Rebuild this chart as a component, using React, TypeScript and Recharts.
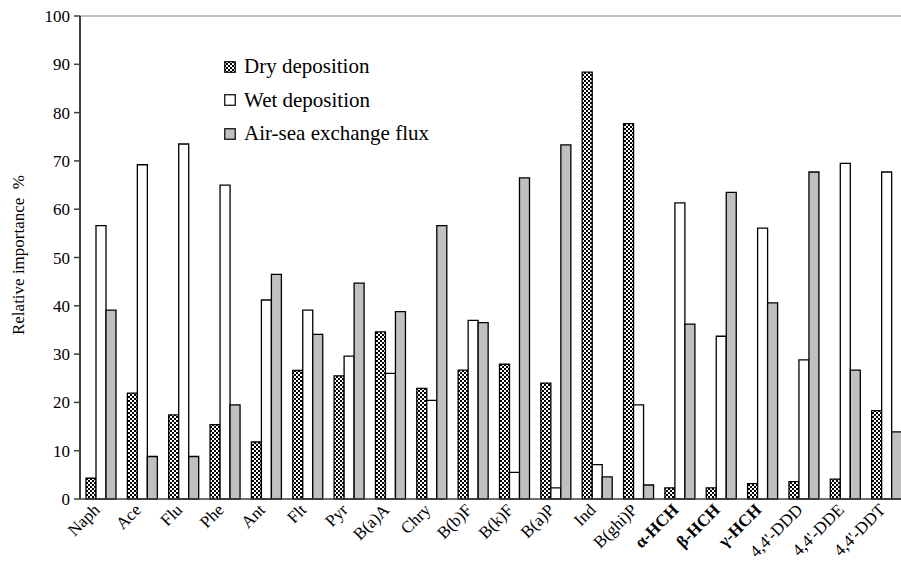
import React from "react";
import {
  Bar,
  BarChart,
  Legend,
  ReferenceLine,
  XAxis,
  YAxis,
} from "recharts";

const SERIF = '"Liberation Serif", "Times New Roman", serif';

const compounds = [
  "Naph",
  "Ace",
  "Flu",
  "Phe",
  "Ant",
  "Flt",
  "Pyr",
  "B(a)A",
  "Chry",
  "B(b)F",
  "B(k)F",
  "B(a)P",
  "Ind",
  "B(ghi)P",
  "α-HCH",
  "β-HCH",
  "γ-HCH",
  "4,4'-DDD",
  "4,4'-DDE",
  "4,4'-DDT",
];

const dryDeposition = [
  4.3, 21.9, 17.4, 15.4, 11.8, 26.6, 25.5, 34.6, 22.9, 26.7, 27.9, 24.0, 88.4,
  77.7, 2.3, 2.3, 3.2, 3.6, 4.1, 18.3,
];

const wetDeposition = [
  56.6, 69.2, 73.5, 65.0, 41.2, 39.1, 29.6, 26.0, 20.4, 37.0, 5.5, 2.3, 7.1,
  19.5, 61.3, 33.7, 56.1, 28.8, 69.5, 67.7,
];

const airSeaFlux = [
  39.1, 8.8, 8.8, 19.5, 46.5, 34.1, 44.7, 38.8, 56.6, 36.5, 66.5, 73.3, 4.6,
  2.9, 36.2, 63.5, 40.6, 67.7, 26.7, 13.9,
];

const seriesNames = ["Dry deposition", "Wet deposition", "Air-sea exchange flux"];

const yTicks = [0, 10, 20, 30, 40, 50, 60, 70, 80, 90, 100];

// boundaries between compounds, where the x-axis tick marks sit
const edgeTicks = [
  0, 1, 2, 3, 4, 5, 6, 7, 8, 9, 10, 11, 12, 13, 14, 15, 16, 17, 18, 19, 20,
];

const greek = ["α-HCH", "β-HCH", "γ-HCH"];

const data = compounds.map((name, i) => ({
  name,
  dry: dryDeposition[i],
  wet: wetDeposition[i],
  air: airSeaFlux[i],
}));

function CompoundTick({ x, y, payload }: any) {
  const bold = greek.includes(payload.value);
  return (
    <g transform={`translate(${x},${y + 12})`}>
      <text
        x={0}
        y={0}
        textAnchor="end"
        transform="rotate(-45)"
        fontFamily={SERIF}
        fontSize={17}
        fontWeight={bold ? 700 : 400}
        fill="#000"
      >
        {payload.value}
      </text>
    </g>
  );
}

function LegendBox({ payload }: any) {
  // keep the series order rather than Recharts' alphabetical sort
  const items = [...(payload || [])].sort(
    (a: any, b: any) => seriesNames.indexOf(a.value) - seriesNames.indexOf(b.value)
  );
  return (
    <div style={{ fontFamily: SERIF, fontSize: 21, color: "#000" }}>
      {items.map((entry: any) => (
        <div
          key={entry.value}
          style={{
            display: "flex",
            alignItems: "center",
            height: 33.5,
            lineHeight: "33.5px",
            whiteSpace: "nowrap",
          }}
        >
          <svg width={12} height={12} style={{ marginRight: 8 }}>
            <rect
              x={0.75}
              y={0.75}
              width={10.5}
              height={10.5}
              fill={entry.payload?.fill ?? entry.color}
              stroke="#000"
              strokeWidth={1.2}
            />
          </svg>
          <span>{entry.value}</span>
        </div>
      ))}
    </div>
  );
}

function AxisTitle() {
  return (
    <text
      x={18}
      y={255}
      transform="rotate(-90, 18, 255)"
      textAnchor="middle"
      dominantBaseline="central"
      fontFamily={SERIF}
      fontSize={17}
      fill="#000"
    >
      Relative importance&#160;&#160;%
    </text>
  );
}

export default function App() {
  return (
    <div
      style={{
        position: "absolute",
        left: 0,
        top: 0,
        width: 901,
        height: 571,
        overflow: "hidden",
        background: "#fff",
      }}
    >
      <BarChart
        width={910}
        height={571}
        data={data}
        margin={{ top: 16, right: 3, left: 0, bottom: 0 }}
        barGap={0}
        barSize={10}
      >
        <defs>
          <pattern
            id="dryChecker"
            width={4}
            height={4}
            patternUnits="userSpaceOnUse"
          >
            <rect width={4} height={4} fill="#fff" />
            <rect width={2} height={2} fill="#000" />
            <rect x={2} y={2} width={2} height={2} fill="#000" />
          </pattern>
        </defs>

        <XAxis
          xAxisId="edge"
          type="number"
          domain={[0, 20]}
          ticks={edgeTicks}
          tick={false}
          axisLine={false}
          tickLine={{ stroke: "#404040", strokeWidth: 1.5 }}
          tickSize={5}
          height={0}
        />
        <XAxis
          dataKey="name"
          interval={0}
          tick={<CompoundTick />}
          tickLine={false}
          tickSize={0}
          tickMargin={0}
          height={72}
          axisLine={{ stroke: "#404040", strokeWidth: 1.5 }}
        />
        <YAxis
          width={80}
          domain={[0, 100]}
          ticks={yTicks}
          interval={0}
          tickSize={6}
          tickMargin={4}
          tick={{ fill: "#000", fontSize: 17, fontFamily: SERIF }}
          tickLine={{ stroke: "#404040", strokeWidth: 1.5 }}
          axisLine={{ stroke: "#404040", strokeWidth: 2 }}
          label={<AxisTitle />}
        />

        <ReferenceLine y={100} stroke="#808080" strokeWidth={1.2} />

        <Legend
          layout="vertical"
          verticalAlign="middle"
          align="center"
          content={<LegendBox />}
          wrapperStyle={{ top: 50, left: 224, width: "auto" }}
        />

        <Bar
          name={seriesNames[0]}
          dataKey="dry"
          fill="url(#dryChecker)"
          stroke="#000"
          strokeWidth={1.3}
          isAnimationActive={false}
        />
        <Bar
          name={seriesNames[1]}
          dataKey="wet"
          fill="#fff"
          stroke="#000"
          strokeWidth={1.3}
          isAnimationActive={false}
        />
        <Bar
          name={seriesNames[2]}
          dataKey="air"
          fill="#c0c0c0"
          stroke="#000"
          strokeWidth={1.3}
          isAnimationActive={false}
        />
      </BarChart>
    </div>
  );
}
